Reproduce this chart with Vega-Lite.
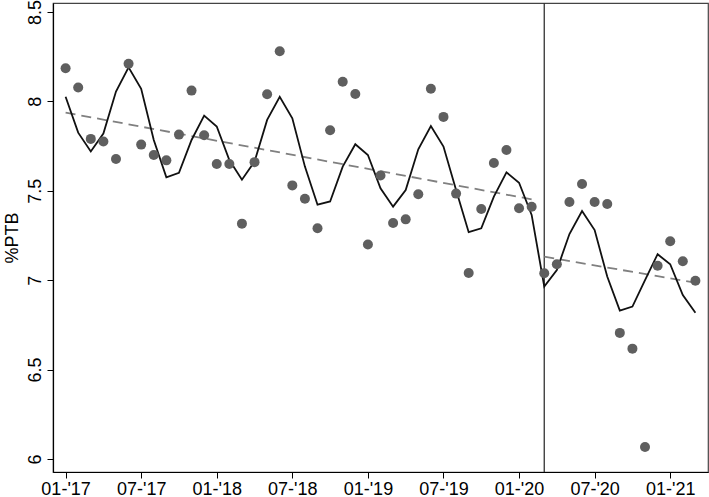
{
  "$schema": "https://vega.github.io/schema/vega-lite/v6.json",
  "width": 655,
  "height": 469,
  "autosize": {"type": "none"},
  "padding": {"left": 53, "top": 3, "right": 1, "bottom": 25},
  "background": "white",
  "config": {
    "view": {"stroke": "#444", "strokeWidth": 1.2},
    "font": "Liberation Sans",
    "axis": {"grid": false, "domainColor": "#000", "tickColor": "#000", "labelColor": "#000", "titleColor": "#000", "labelFont": "Liberation Sans", "titleFont": "Liberation Sans", "labelFontSize": 18, "titleFontSize": 18, "titleFontWeight": "normal", "tickSize": 6, "domainWidth": 1.2, "tickWidth": 1}
  },
  "datasets": {
    "monthly": [
      {"t": 0, "ptb": 8.185, "fit": 8.026},
      {"t": 1, "ptb": 8.077, "fit": 7.825},
      {"t": 2, "ptb": 7.79, "fit": 7.72},
      {"t": 3, "ptb": 7.775, "fit": 7.82},
      {"t": 4, "ptb": 7.678, "fit": 8.055},
      {"t": 5, "ptb": 8.21, "fit": 8.19},
      {"t": 6, "ptb": 7.758, "fit": 8.07},
      {"t": 7, "ptb": 7.70, "fit": 7.784},
      {"t": 8, "ptb": 7.67, "fit": 7.575},
      {"t": 9, "ptb": 7.814, "fit": 7.60},
      {"t": 10, "ptb": 8.06, "fit": 7.784},
      {"t": 11, "ptb": 7.81, "fit": 7.92},
      {"t": 12, "ptb": 7.65, "fit": 7.859},
      {"t": 13, "ptb": 7.65, "fit": 7.672},
      {"t": 14, "ptb": 7.316, "fit": 7.562},
      {"t": 15, "ptb": 7.66, "fit": 7.663},
      {"t": 16, "ptb": 8.04, "fit": 7.896},
      {"t": 17, "ptb": 8.28, "fit": 8.025},
      {"t": 18, "ptb": 7.53, "fit": 7.905},
      {"t": 19, "ptb": 7.455, "fit": 7.635},
      {"t": 20, "ptb": 7.29, "fit": 7.422},
      {"t": 21, "ptb": 7.838, "fit": 7.44},
      {"t": 22, "ptb": 8.11, "fit": 7.635},
      {"t": 23, "ptb": 8.041, "fit": 7.76},
      {"t": 24, "ptb": 7.199, "fit": 7.70},
      {"t": 25, "ptb": 7.585, "fit": 7.514},
      {"t": 26, "ptb": 7.32, "fit": 7.411},
      {"t": 27, "ptb": 7.34, "fit": 7.504},
      {"t": 28, "ptb": 7.48, "fit": 7.732},
      {"t": 29, "ptb": 8.07, "fit": 7.862},
      {"t": 30, "ptb": 7.913, "fit": 7.747},
      {"t": 31, "ptb": 7.484, "fit": 7.504},
      {"t": 32, "ptb": 7.04, "fit": 7.268},
      {"t": 33, "ptb": 7.398, "fit": 7.29},
      {"t": 34, "ptb": 7.655, "fit": 7.467},
      {"t": 35, "ptb": 7.728, "fit": 7.603},
      {"t": 36, "ptb": 7.402, "fit": 7.545},
      {"t": 37, "ptb": 7.41, "fit": 7.365},
      {"t": 38, "ptb": 7.039, "fit": 6.964},
      {"t": 39, "ptb": 7.089, "fit": 7.057},
      {"t": 40, "ptb": 7.437, "fit": 7.258},
      {"t": 41, "ptb": 7.538, "fit": 7.387},
      {"t": 42, "ptb": 7.437, "fit": 7.28},
      {"t": 43, "ptb": 7.426, "fit": 7.02},
      {"t": 44, "ptb": 6.705, "fit": 6.83},
      {"t": 45, "ptb": 6.617, "fit": 6.852},
      {"t": 46, "ptb": 6.067, "fit": 7.0},
      {"t": 47, "ptb": 7.081, "fit": 7.145},
      {"t": 48, "ptb": 7.218, "fit": 7.089},
      {"t": 49, "ptb": 7.106, "fit": 6.917},
      {"t": 50, "ptb": 6.997, "fit": 6.818}
    ],
    "trend": [
      {"t": 0, "trend": 7.937, "period": "pre"},
      {"t": 37, "trend": 7.452, "period": "pre"},
      {"t": 38, "trend": 7.131, "period": "post"},
      {"t": 50, "trend": 6.986, "period": "post"}
    ],
    "breaks": [{"t": 38}]
  },
  "layer": [
    {
      "data": {"name": "breaks"},
      "mark": {"type": "rule", "color": "#333", "strokeWidth": 1.3},
      "encoding": {
        "x": {"field": "t", "type": "quantitative", "scale": {"domain": [-1, 51], "nice": false, "zero": false},
          "axis": {"title": null, "values": [0, 6, 12, 18, 24, 30, 36, 42, 48], "labelExpr": "(datum.value % 12 == 0 ? '01' : '07') + \"-'\" + (17 + floor(datum.value / 12))", "labelPadding": 2}}
      }
    },
    {
      "data": {"name": "trend"},
      "mark": {"type": "line", "color": "#808080", "strokeWidth": 1.8, "strokeDash": [10, 6]},
      "encoding": {
        "x": {"field": "t", "type": "quantitative"},
        "y": {"field": "trend", "type": "quantitative"},
        "detail": {"field": "period"}
      }
    },
    {
      "data": {"name": "monthly"},
      "mark": {"type": "line", "color": "#111", "strokeWidth": 1.8},
      "encoding": {
        "x": {"field": "t", "type": "quantitative"},
        "y": {"field": "fit", "type": "quantitative",
          "scale": {"domain": [5.927, 8.55], "nice": false, "zero": false},
          "axis": {"title": "%PTB", "format": "~g", "values": [6, 6.5, 7, 7.5, 8, 8.5], "labelAngle": 270, "labelAlign": "center", "labelBaseline": "bottom", "labelPadding": 3, "titlePadding": 5}}
      }
    },
    {
      "data": {"name": "monthly"},
      "mark": {"type": "circle", "color": "#5f5f5f", "opacity": 1, "size": 100},
      "encoding": {
        "x": {"field": "t", "type": "quantitative"},
        "y": {"field": "ptb", "type": "quantitative"}
      }
    }
  ]
}
